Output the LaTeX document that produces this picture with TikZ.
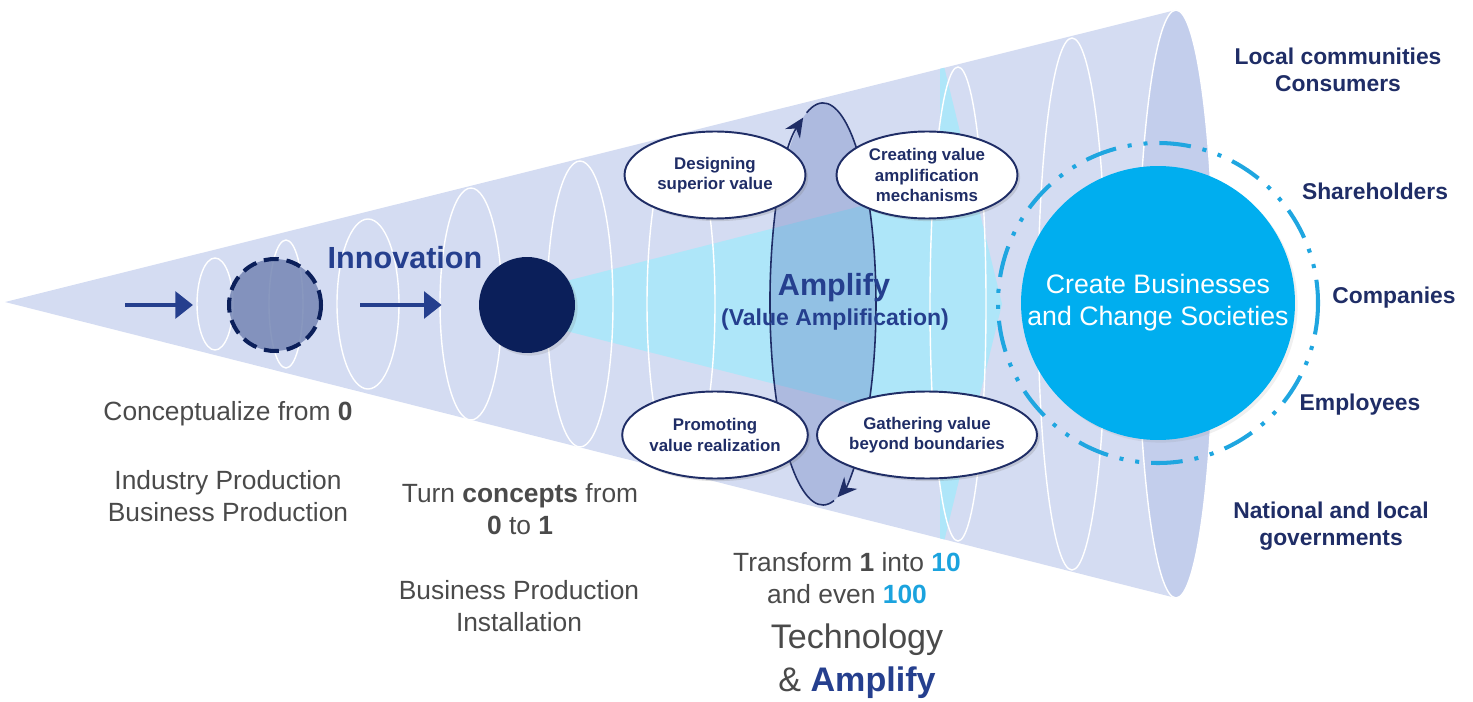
\documentclass[tikz,border=0pt]{standalone}
\usepackage{fontspec}
\setmainfont{Liberation Sans}
\usetikzlibrary{shapes.geometric,arrows.meta,shadows}
\definecolor{conefill}{HTML}{D4DCF2}
\definecolor{coneend}{HTML}{C3CEEC}
\definecolor{beamcyan}{HTML}{AEE6F9}
\definecolor{lensblue}{HTML}{4A63B0}
\definecolor{navytext}{HTML}{1F2D66}
\definecolor{amplifyblue}{HTML}{253F8E}
\definecolor{darknavy}{HTML}{0B1F5A}
\definecolor{dashfill}{HTML}{7586B4}
\definecolor{bigcyan}{HTML}{00AEEF}
\definecolor{ringcyan}{HTML}{1FA6E0}
\definecolor{textgray}{HTML}{4A4A4A}
\definecolor{numcyan}{HTML}{1BA3DE}
\tikzset{
graytext/.style={text=textgray, align=center, font=\fontsize{15}{18.2}\selectfont},
stakeholder/.style={text=navytext, align=center, font=\bfseries\fontsize{13}{15.4}\selectfont},
valueellipse/.style={ellipse, draw=navytext, fill=white, line width=1.1pt, inner sep=0pt, minimum width=3.62cm, minimum height=1.74cm, align=center, text=navytext, font=\bfseries\fontsize{9.6}{11.6}\selectfont, drop shadow={opacity=0.25,shadow xshift=1.5pt,shadow yshift=-1.5pt}},
ringline/.style={draw=white, line width=0.8pt},
loopline/.style={draw=navytext, line width=0.9pt, -{Stealth[length=11pt,width=10pt]}},
navyarrow/.style={draw=amplifyblue, line width=2.8pt, -{Triangle[length=10pt,width=15pt]}},
}

\begin{document}
\begin{tikzpicture}[x=0.02cm,y=-0.02cm]
    \useasboundingbox (0,0) rectangle (1473,702);
    \fill[conefill] (5,302) -- (1176,10) -- (1176,598) -- cycle;
    \fill[coneend] (1176,304) ellipse [x radius=38, y radius=294];
    \fill[beamcyan] (527,291) -- (940,186) -- (940,426) -- (527,321) -- cycle;
    \begin{scope}
     \clip (5,302) -- (1176,10) -- (1176,598) -- cycle;
     \fill[beamcyan] (940,50) -- (1002,304) -- (940,558) -- cycle;
    \end{scope}
    \foreach \ex/\erx/\ery in {215/18/46, 286/17/64, 368/31/85, 471/31/116, 580/33/143, 681/34/168, 958/28/237, 1072/34/266, 1176/38/294}
     \draw[ringline] (\ex,304) ellipse [x radius=\erx, y radius=\ery];

    \fill[lensblue, fill opacity=0.28] (823,304) ellipse [x radius=53, y radius=201];
    \draw[loopline] (834.0,500.6) arc [start angle=78, end angle=248, x radius=53, y radius=201];
    \draw[loopline] (806.6,112.8) arc [start angle=252, end angle=434, x radius=53, y radius=201];

    \node[circle, fill=dashfill, fill opacity=0.85, draw=darknavy, line width=2.3pt, dash pattern=on 8.5pt off 4.5pt, minimum size=1.84cm, inner sep=0pt] at (275,305) (dashc) {};
    \node[circle, fill=darknavy, minimum size=1.92cm, inner sep=0pt, drop shadow={opacity=0.2,shadow xshift=1.5pt,shadow yshift=-1.5pt}] at (527,305) (darkc) {};
    \coordinate (arrowstart) at (125,305);
    \draw[navyarrow, shorten >=0.68cm] (arrowstart) -- (dashc);
    \draw[navyarrow, shorten <=0.74cm, shorten >=0.74cm] (dashc) -- (darkc);

    \node[text=amplifyblue, font=\bfseries\fontsize{17.4}{20}\selectfont] at (405,258) (innov) {Innovation};
    \node[text=amplifyblue, font=\bfseries\fontsize{17.4}{20}\selectfont] at (834,288) (amplify) {Amplify};
    \node[text=amplifyblue, font=\bfseries\fontsize{13.1}{15}\selectfont] at (835,320) (valueamp) {(Value Amplification)};

    \node[valueellipse] at (715,175) (design) {Designing\\superior value};
    \node[valueellipse] at (927,175) (creating) {Creating value\\amplification\\mechanisms};
    \node[valueellipse] at (715,435) (promoting) {Promoting\\value realization};
    \node[valueellipse] at (927,435) (gathering) {Gathering value\\beyond boundaries};

    \node[circle, fill=bigcyan, minimum size=5.48cm, inner sep=0pt, align=center, text=white, font=\fontsize{15.2}{18.2}\selectfont, drop shadow={opacity=0.12,shadow xshift=1.5pt,shadow yshift=-1.5pt}] at (1158,303) (bigc) {Create Businesses\\and Change Societies};
    \draw[ringcyan, line width=2.3pt, dash pattern=on 18pt off 6.8pt on 2.3pt off 6.8pt on 2.3pt off 6.8pt] (bigc.center) circle [radius=160];

    \node[graytext] at (228,414) (concept) {Conceptualize from \textbf{0}};
    \node[graytext] at (228,496) (industry) {Industry Production\\Business Production};
    \node[graytext] at (520,509) (turn) {Turn \textbf{concepts} from\\\textbf{0} to \textbf{1}};
    \node[graytext] at (519,606) (install) {Business Production\\Installation};
    \node[graytext] at (847,578) (transform) {Transform \textbf{1} into \textbf{\textcolor{numcyan}{10}}\\and even \textbf{\textcolor{numcyan}{100}}};
    \node[graytext, font=\fontsize{19.4}{24.5}\selectfont] at (857,661) (techno) {Technology\\\& \textbf{\textcolor{amplifyblue}{Amplify}}};

    \node[stakeholder] at (1338,70) (local) {Local communities\\Consumers};
    \node[stakeholder] at (1375,191) (share) {Shareholders};
    \node[stakeholder] at (1394,298) (companies) {Companies};
    \node[stakeholder] at (1360,405) (employees) {Employees};
    \node[stakeholder] at (1331,526) (national) {National and local\\governments};
\end{tikzpicture}
\end{document}
